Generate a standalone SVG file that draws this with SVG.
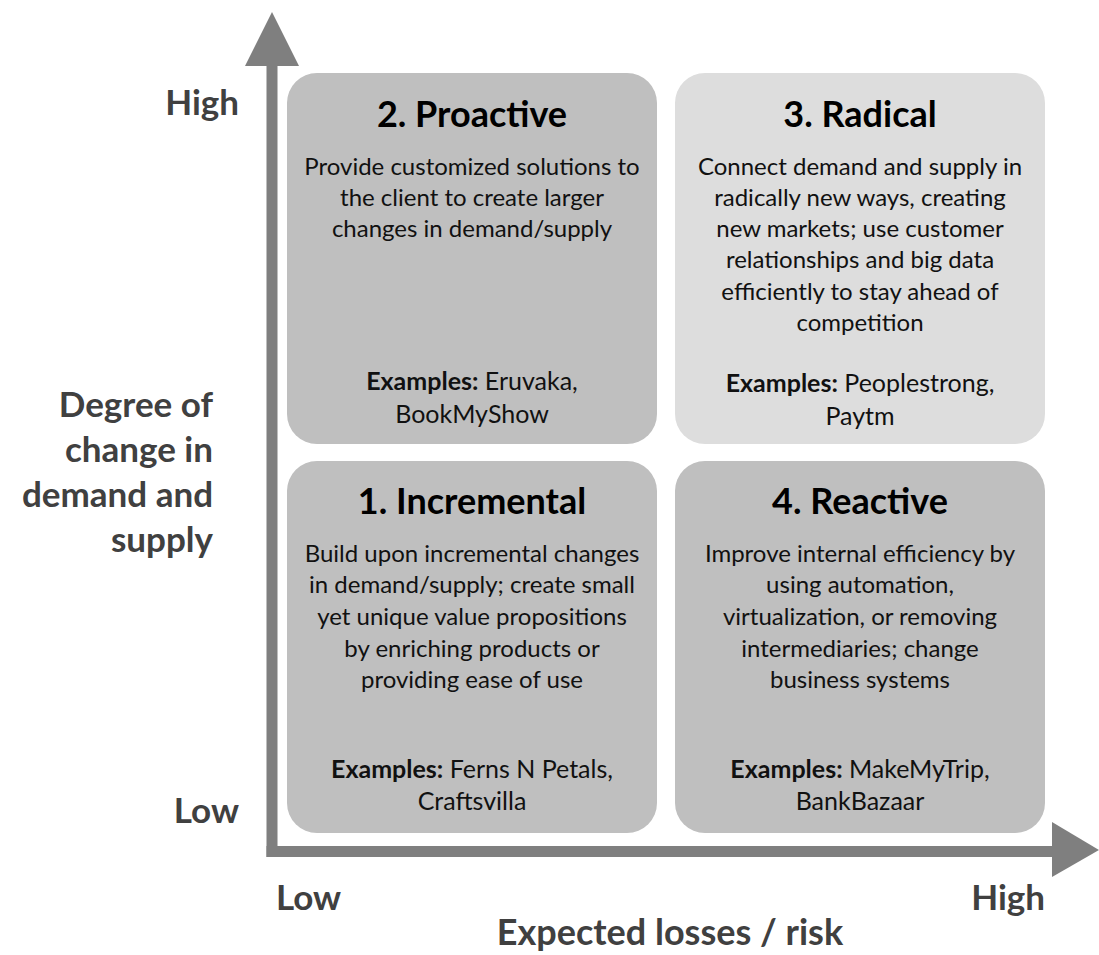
<svg xmlns="http://www.w3.org/2000/svg" width="1099" height="955" viewBox="0 0 1099 955">
  <style>
    .box { fill: #bfbfbf; }
    .box.light { fill: #dddddd; }
    .title { font-family: Lato, "Open Sans", sans-serif; font-weight: bold; font-size: 36px; fill: #000; text-anchor: middle; }
    .body { font-family: Lato, "Open Sans", sans-serif; font-size: 24px; fill: #111; text-anchor: middle; }
    .body.ex { font-size: 25px; }
    .body tspan.b { font-weight: bold; }
    .axis-label { font-family: Lato, "Open Sans", sans-serif; font-weight: bold; font-size: 35px; fill: #404040; }
    .axis { fill: #7f7f7f; }
  </style>
  <rect width="1099" height="955" fill="#fff"/>

  <!-- axes -->
  <g id="connectors">
    <rect class="axis" x="266.5" y="60" width="11" height="797"/>
    <polygon class="axis" points="272,12 299,66 245,66"/>
    <rect class="axis" x="266.5" y="846" width="792" height="11"/>
    <polygon class="axis" points="1099,850 1052,822 1052,877"/>
  </g>

  <!-- axis labels -->
  <g id="y-axis-labels" class="axis-label" text-anchor="end">
    <text x="239" y="115">High</text>
    <text x="239" y="823">Low</text>
    <text x="213" y="417">Degree of</text>
    <text x="213" y="462">change in</text>
    <text x="213" y="507">demand and</text>
    <text x="213" y="552">supply</text>
  </g>
  <g id="x-axis-labels" class="axis-label">
    <text x="276" y="910">Low</text>
    <text x="1045" y="910" text-anchor="end">High</text>
    <text x="670" y="945" text-anchor="middle" style="font-size:36px">Expected losses / risk</text>
  </g>

  <!-- quadrant 2: top-left -->
  <g id="proactive">
    <rect class="box" x="287" y="73" width="370" height="371" rx="30"/>
    <text class="title" x="472" y="127">2. Proactive</text>
    <text class="body" x="472" y="175">Provide customized solutions to</text>
    <text class="body" x="472" y="206">the client to create larger</text>
    <text class="body" x="472" y="237">changes in demand/supply</text>
    <text class="body ex" x="472" y="390"><tspan class="b">Examples:</tspan> Eruvaka,</text>
    <text class="body ex" x="472" y="423">BookMyShow</text>
  </g>

  <!-- quadrant 3: top-right -->
  <g id="radical">
    <rect class="box light" x="675" y="73" width="370" height="371" rx="30"/>
    <text class="title" x="860" y="127">3. Radical</text>
    <text class="body" x="860" y="175">Connect demand and supply in</text>
    <text class="body" x="860" y="206">radically new ways, creating</text>
    <text class="body" x="860" y="237">new markets; use customer</text>
    <text class="body" x="860" y="268">relationships and big data</text>
    <text class="body" x="860" y="300">efficiently to stay ahead of</text>
    <text class="body" x="860" y="331">competition</text>
    <text class="body ex" x="860" y="392"><tspan class="b">Examples:</tspan> Peoplestrong,</text>
    <text class="body ex" x="860" y="425">Paytm</text>
  </g>

  <!-- quadrant 1: bottom-left -->
  <g id="incremental">
    <rect class="box" x="287" y="461" width="370" height="372" rx="30"/>
    <text class="title" x="472" y="514">1. Incremental</text>
    <text class="body" x="472" y="562">Build upon incremental changes</text>
    <text class="body" x="472" y="593">in demand/supply; create small</text>
    <text class="body" x="472" y="625">yet unique value propositions</text>
    <text class="body" x="472" y="657">by enriching products or</text>
    <text class="body" x="472" y="688">providing ease of use</text>
    <text class="body ex" x="472" y="778"><tspan class="b">Examples:</tspan> Ferns N Petals,</text>
    <text class="body ex" x="472" y="810">Craftsvilla</text>
  </g>

  <!-- quadrant 4: bottom-right -->
  <g id="reactive">
    <rect class="box" x="675" y="461" width="370" height="372" rx="30"/>
    <text class="title" x="860" y="514">4. Reactive</text>
    <text class="body" x="860" y="562">Improve internal efficiency by</text>
    <text class="body" x="860" y="593">using automation,</text>
    <text class="body" x="860" y="625">virtualization, or removing</text>
    <text class="body" x="860" y="657">intermediaries; change</text>
    <text class="body" x="860" y="688">business systems</text>
    <text class="body ex" x="860" y="778"><tspan class="b">Examples:</tspan> MakeMyTrip,</text>
    <text class="body ex" x="860" y="810">BankBazaar</text>
  </g>
</svg>
